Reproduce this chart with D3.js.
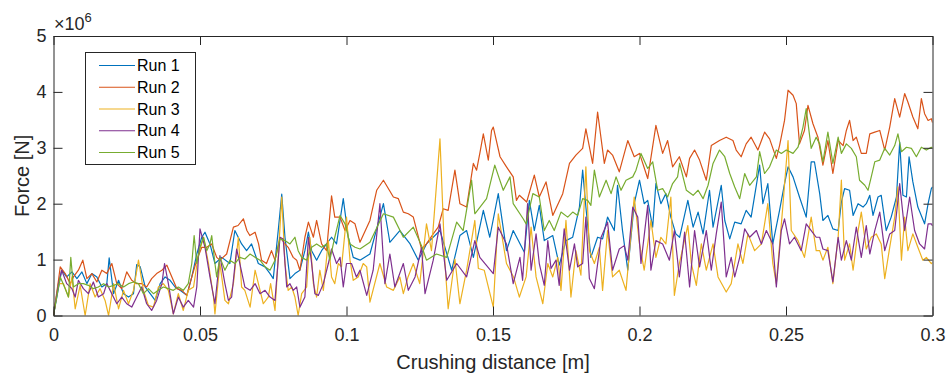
<!DOCTYPE html>
<html>
<head>
<meta charset="utf-8">
<script src="https://cdn.jsdelivr.net/npm/d3@7"></script>
<style>
  body { margin: 0; background: #fff; }
  svg { display: block; font-family: "Liberation Sans", Arial, Helvetica, sans-serif; }
  .axis path, .axis line { stroke: #262626; }
  .axis text { fill: #262626; font-size: 18px; }
  .label { fill: #262626; font-size: 20px; }
</style>
</head>
<body>
<svg id="chart"></svg>
<script>
// crushing distance [m] vs force, force stored in units of 1e6 N
const run1 = [[0,0],[0.0028,0.81],[0.0045,0.69],[0.0063,0.78],[0.008,0.66],[0.0097,0.78],[0.0114,0.57],[0.0131,0.75],[0.0148,0.69],[0.0165,0.51],[0.0182,0.57],[0.019,1.03],[0.0205,0.39],[0.0222,0.63],[0.0239,0.39],[0.0256,0.33],[0.0273,0.39],[0.0284,0.91],[0.0296,0.87],[0.0313,0.51],[0.033,0.39],[0.0347,0.27],[0.0364,0.57],[0.0381,0.69],[0.0398,0.63],[0.0415,0.51],[0.0432,0.45],[0.0455,0.36],[0.0472,0.69],[0.0489,1.1],[0.0506,1.4],[0.0517,1.49],[0.0534,1.28],[0.0551,0.93],[0.0574,1.04],[0.0602,0.93],[0.0619,1.52],[0.0642,1.28],[0.0659,1.16],[0.0676,1.28],[0.0699,0.93],[0.0722,0.87],[0.0739,0.75],[0.075,0.66],[0.0767,1.52],[0.0779,2.17],[0.079,1.4],[0.0807,0.66],[0.0824,0.75],[0.0841,0.81],[0.0858,1.16],[0.087,1.49],[0.0881,1.16],[0.0898,0.99],[0.0915,1.16],[0.0932,1.28],[0.0949,1.4],[0.0966,1.28],[0.0989,2.09],[0.1006,1.4],[0.1023,1.04],[0.1046,0.99],[0.108,1.1],[0.1126,2.0],[0.1148,1.31],[0.1182,1.52],[0.1217,1.28],[0.1245,0.99],[0.1273,1.28],[0.1319,1.52],[0.1359,0.81],[0.1387,1.43],[0.141,1.52],[0.1433,1.04],[0.1467,1.88],[0.1489,1.4],[0.1518,2.18],[0.1546,1.16],[0.1569,1.52],[0.1607,1.13],[0.1624,2.06],[0.1641,1.52],[0.1658,1.97],[0.1675,1.34],[0.1704,1.43],[0.1726,0.9],[0.1749,1.34],[0.1772,1.4],[0.1795,1.94],[0.1806,2.6],[0.1817,1.94],[0.1834,1.04],[0.1857,1.4],[0.1874,1.37],[0.1891,1.76],[0.1914,1.52],[0.1925,2.33],[0.1942,1.52],[0.196,0.81],[0.1982,2.0],[0.2,2.42],[0.2016,2.0],[0.2028,2.06],[0.2045,1.58],[0.2056,2.36],[0.2073,2.0],[0.209,2.18],[0.2107,1.76],[0.2124,1.46],[0.2137,1.4],[0.2165,2.06],[0.2183,1.58],[0.22,1.85],[0.2217,1.46],[0.2239,2.24],[0.2251,1.58],[0.2279,2.33],[0.2291,1.7],[0.2308,1.37],[0.2325,1.67],[0.2347,1.64],[0.2364,1.88],[0.2381,1.76],[0.241,2.69],[0.2421,2.0],[0.2438,2.36],[0.2455,1.28],[0.2478,1.88],[0.2495,2.36],[0.2507,2.66],[0.2524,2.48],[0.2546,2.12],[0.2569,1.76],[0.2586,2.75],[0.2597,2.75],[0.2615,2.18],[0.2626,1.7],[0.2643,1.79],[0.266,1.55],[0.2678,1.52],[0.2689,2.03],[0.27,2.27],[0.2717,2.24],[0.2729,1.79],[0.2746,2.0],[0.2763,1.94],[0.2774,2.0],[0.2786,2.15],[0.2797,1.79],[0.2814,2.12],[0.2825,2.15],[0.2842,1.52],[0.2859,1.76],[0.2877,2.12],[0.2888,3.1],[0.2899,2.15],[0.2911,2.12],[0.292,2.84],[0.2933,2.39],[0.295,1.94],[0.2973,1.64],[0.2985,2.0],[0.2996,2.27],[0.3,2.3]];

const run2 = [[0,0],[0.0017,0.63],[0.0023,0.87],[0.004,0.75],[0.0057,0.57],[0.0068,0.69],[0.0085,0.81],[0.01,0.99],[0.0114,0.66],[0.0131,0.75],[0.0148,0.6],[0.0165,0.81],[0.0182,0.75],[0.0199,0.93],[0.0216,0.57],[0.0233,0.48],[0.025,0.78],[0.0267,0.63],[0.0284,0.57],[0.0301,0.57],[0.0318,0.51],[0.0335,0.66],[0.0352,0.75],[0.037,0.81],[0.0387,0.9],[0.0404,0.69],[0.0421,0.48],[0.0438,0.45],[0.0455,0.36],[0.0472,0.69],[0.0489,0.99],[0.0506,1.22],[0.0523,1.22],[0.054,1.28],[0.0557,1.04],[0.0568,0.99],[0.0591,1.1],[0.0614,1.58],[0.063,1.61],[0.0648,1.73],[0.066,1.52],[0.067,1.43],[0.0688,1.49],[0.07,1.28],[0.071,0.99],[0.0727,0.93],[0.0744,1.16],[0.0756,0.99],[0.0773,1.4],[0.079,1.28],[0.0801,1.22],[0.0818,1.04],[0.083,0.99],[0.0841,0.81],[0.0858,1.4],[0.087,1.67],[0.0887,1.4],[0.0898,1.7],[0.0915,1.28],[0.0932,1.16],[0.0949,2.14],[0.096,1.76],[0.0978,1.76],[0.0995,1.52],[0.1012,1.7],[0.1029,1.64],[0.1046,1.31],[0.108,1.7],[0.1103,2.24],[0.1126,2.42],[0.116,2.12],[0.1177,2.09],[0.1194,1.85],[0.1211,1.82],[0.1228,1.76],[0.1256,1.19],[0.1273,1.28],[0.1296,1.46],[0.1313,1.58],[0.133,1.91],[0.1347,1.88],[0.137,2.6],[0.1387,2.0],[0.141,1.94],[0.1433,2.72],[0.1444,2.6],[0.1455,2.9],[0.1467,3.25],[0.1484,2.78],[0.1495,3.31],[0.1501,3.37],[0.1524,2.84],[0.1546,2.66],[0.1569,2.48],[0.158,2.06],[0.159,2.15],[0.1615,2.03],[0.1641,2.51],[0.1658,2.12],[0.1681,2.39],[0.1704,1.79],[0.1738,2.18],[0.1761,2.72],[0.1783,2.87],[0.1806,2.99],[0.1817,3.34],[0.184,2.72],[0.1857,3.64],[0.188,2.72],[0.1891,2.96],[0.1908,2.87],[0.1931,2.57],[0.196,3.13],[0.1982,2.84],[0.2,2.9],[0.2028,2.45],[0.2056,3.4],[0.2079,2.9],[0.2096,3.13],[0.2113,2.66],[0.2136,2.84],[0.216,2.48],[0.2171,2.81],[0.2188,2.96],[0.2205,2.78],[0.2228,2.42],[0.2245,3.04],[0.2273,3.13],[0.2296,3.19],[0.2319,3.13],[0.233,2.96],[0.2347,2.84],[0.2364,3.07],[0.2381,3.19],[0.2404,2.96],[0.2427,3.28],[0.2444,3.16],[0.2467,2.81],[0.2478,3.04],[0.2495,3.49],[0.2507,4.03],[0.2524,3.94],[0.2535,3.79],[0.2546,3.07],[0.2563,3.31],[0.2575,3.76],[0.2592,3.43],[0.2609,3.19],[0.2626,2.69],[0.2643,3.13],[0.266,2.54],[0.2678,3.13],[0.2695,3.04],[0.2706,3.31],[0.2717,3.49],[0.2729,3.13],[0.274,3.19],[0.2757,2.9],[0.2774,2.9],[0.2786,3.25],[0.2803,3.28],[0.282,3.31],[0.2837,2.96],[0.2854,3.37],[0.2871,3.88],[0.2888,3.55],[0.2905,3.97],[0.2916,3.82],[0.2933,3.55],[0.295,3.34],[0.2962,3.88],[0.2973,3.61],[0.2985,3.49],[0.2996,3.52],[0.3,3.45]];

const run3 = [[0,0],[0.0017,0.57],[0.0034,0.57],[0.0051,0.33],[0.0063,0.69],[0.0074,0.12],[0.0091,0.54],[0.0108,0],[0.0125,0.57],[0.0142,0.33],[0.0159,0.48],[0.0176,0.27],[0.0188,0],[0.0205,0.57],[0.0222,0.12],[0.0239,0.45],[0.0256,0.21],[0.0273,0.45],[0.029,0.99],[0.0307,0.45],[0.0324,0.18],[0.0341,0.15],[0.0358,0.51],[0.0375,0.57],[0.0392,0.45],[0.0409,0.03],[0.0426,0.39],[0.0443,0.09],[0.046,0.45],[0.0478,0.51],[0.0495,1.1],[0.0512,1.4],[0.0529,0.93],[0.0546,0.33],[0.0551,0.03],[0.0568,0.93],[0.0585,0.27],[0.0597,0.21],[0.0614,0.57],[0.0631,1.4],[0.0642,0.51],[0.0653,0.45],[0.0671,0.15],[0.0688,0.81],[0.0705,0.45],[0.0716,0.21],[0.0733,0.33],[0.0741,0.57],[0.0756,0.09],[0.0767,1.04],[0.0779,2.12],[0.079,0.93],[0.0801,0.45],[0.0813,0.51],[0.0824,0.33],[0.0835,0],[0.0847,0.39],[0.0864,0.51],[0.0875,1.4],[0.0887,0.57],[0.0898,0.33],[0.0909,0.81],[0.0921,0.45],[0.0938,1.34],[0.0949,0.69],[0.096,0.57],[0.0972,0.93],[0.0983,0.87],[0.1,1.76],[0.1012,0.99],[0.1023,0.63],[0.104,0.69],[0.1057,0.93],[0.1069,0.87],[0.108,0.24],[0.1114,0.93],[0.1137,0.51],[0.116,0.45],[0.1182,0.69],[0.1194,0.39],[0.121,0.69],[0.1228,0.93],[0.125,0.57],[0.1273,1.64],[0.129,1.16],[0.1319,3.16],[0.1336,0.93],[0.1347,0.12],[0.137,1.01],[0.1387,0.21],[0.141,0.81],[0.1438,1.7],[0.145,0.84],[0.147,0.81],[0.1501,0.15],[0.1518,1.82],[0.1546,0.93],[0.157,0.69],[0.159,0.33],[0.1613,0.69],[0.163,1.58],[0.1647,0.69],[0.167,0.21],[0.1687,0.93],[0.1704,0.69],[0.1721,1.04],[0.1732,0.45],[0.1749,1.7],[0.1766,0.33],[0.1783,1.16],[0.18,0.72],[0.1817,2.66],[0.1829,1.16],[0.1846,0.93],[0.1863,1.22],[0.1874,0.45],[0.1891,1.52],[0.1908,0.69],[0.1931,0.81],[0.1954,0.45],[0.1982,2.12],[0.2,1.28],[0.2016,0.81],[0.2039,1.7],[0.2056,1.04],[0.2073,1.4],[0.209,1.28],[0.2107,2.12],[0.2119,0.36],[0.2136,0.93],[0.2165,1.61],[0.2177,0.93],[0.2194,0.54],[0.2211,1.28],[0.2228,0.81],[0.2251,1.28],[0.2268,0.69],[0.2296,0.42],[0.2313,0.57],[0.2336,1.28],[0.2353,0.93],[0.237,1.46],[0.2393,1.16],[0.2416,1.28],[0.2438,2.0],[0.2455,0.93],[0.2467,0.57],[0.2489,1.94],[0.2507,3.13],[0.2518,1.52],[0.2541,1.34],[0.2563,1.04],[0.2586,1.76],[0.2603,1.16],[0.2615,1.16],[0.2626,0.99],[0.2643,1.22],[0.266,0.57],[0.2678,1.4],[0.2689,2.42],[0.27,0.99],[0.2717,1.28],[0.2729,0.81],[0.2746,1.52],[0.2757,1.85],[0.2774,1.19],[0.2791,1.4],[0.2808,1.46],[0.2825,1.28],[0.2837,0.66],[0.2854,1.22],[0.2871,1.76],[0.2882,2.3],[0.2894,0.99],[0.2905,1.76],[0.2916,1.16],[0.2933,1.46],[0.295,1.22],[0.2967,0.99],[0.2979,1.04],[0.2996,0.93],[0.3,0.95]];

const run4 = [[0,0],[0.0017,0.57],[0.0028,0.81],[0.0045,0.57],[0.0063,0.48],[0.0074,0.33],[0.0085,0.63],[0.0102,0.48],[0.0119,0.39],[0.0136,0.6],[0.0153,0.33],[0.0171,0.39],[0.0182,0.57],[0.0199,0.39],[0.0216,0.21],[0.0233,0.33],[0.025,0.21],[0.0267,0.15],[0.0284,0.33],[0.0301,0.51],[0.0318,0.21],[0.0335,0.09],[0.0352,0.27],[0.037,0.57],[0.0379,0.93],[0.0392,0.57],[0.0409,0.03],[0.0426,0.33],[0.0443,0.15],[0.046,0.27],[0.0478,0.15],[0.0489,0.51],[0.05,1.55],[0.0517,1.22],[0.0534,0.69],[0.0551,0.21],[0.0568,1.07],[0.0585,0.57],[0.0597,0.27],[0.0608,0.33],[0.0625,1.19],[0.0636,0.93],[0.0653,0.51],[0.0671,0.45],[0.0688,0.57],[0.0705,0.39],[0.0722,0.45],[0.0739,0.33],[0.0756,0.27],[0.0773,1.4],[0.0784,1.37],[0.0796,0.51],[0.0807,0.57],[0.0818,0.45],[0.083,0.51],[0.0841,0.15],[0.0858,0.33],[0.087,1.4],[0.0881,0.93],[0.0892,0.39],[0.0904,0.36],[0.0921,0.57],[0.0938,0.93],[0.0949,1.19],[0.0966,0.93],[0.0978,1.04],[0.0989,0.51],[0.1,0.93],[0.1017,0.93],[0.1034,0.69],[0.1046,0.81],[0.1069,0.36],[0.1091,0.81],[0.1114,2.0],[0.1131,0.57],[0.1148,1.1],[0.1165,0.51],[0.1194,0.93],[0.1211,0.45],[0.1234,0.69],[0.1256,1.22],[0.1268,0.39],[0.1296,0.99],[0.1319,1.64],[0.1342,0.63],[0.1376,0.93],[0.141,0.69],[0.1438,1.34],[0.1455,1.04],[0.1501,0.75],[0.1518,1.58],[0.1546,1.28],[0.1569,0.57],[0.1592,1.04],[0.1601,0.63],[0.1618,2.0],[0.163,0.81],[0.1647,1.46],[0.1658,0.93],[0.1675,0.54],[0.1687,1.34],[0.1698,0.84],[0.1715,0.99],[0.1726,0.54],[0.1743,1.55],[0.1761,0.81],[0.1778,1.28],[0.1789,0.87],[0.1806,0.93],[0.1817,1.76],[0.1829,0.66],[0.1846,0.48],[0.1869,1.4],[0.1891,1.67],[0.1908,0.81],[0.1931,1.19],[0.1948,1.25],[0.196,0.99],[0.1977,1.94],[0.1994,1.76],[0.2005,0.93],[0.2028,1.97],[0.2039,0.81],[0.2056,1.34],[0.2079,1.28],[0.2102,0.99],[0.2119,1.52],[0.2136,0.69],[0.2154,1.49],[0.2171,0.51],[0.2188,1.52],[0.2205,0.87],[0.2228,1.52],[0.2245,0.81],[0.2262,1.46],[0.2279,2.03],[0.2296,0.69],[0.2313,1.04],[0.2325,0.69],[0.2342,1.04],[0.2359,1.55],[0.2376,1.4],[0.2399,1.52],[0.2416,1.28],[0.2433,1.52],[0.2455,1.28],[0.2467,0.51],[0.2484,1.52],[0.2495,1.73],[0.2512,1.28],[0.2529,1.4],[0.2552,1.16],[0.2569,1.64],[0.2586,1.52],[0.2603,1.4],[0.2615,1.4],[0.2626,1.19],[0.2643,1.16],[0.266,0.6],[0.2678,1.4],[0.2689,0.99],[0.2706,1.34],[0.2723,0.99],[0.274,1.58],[0.2757,1.04],[0.2774,1.61],[0.2786,1.1],[0.2803,1.52],[0.282,1.85],[0.2837,1.16],[0.2854,1.46],[0.2871,1.52],[0.2888,2.36],[0.2905,1.52],[0.2922,2.12],[0.2939,1.52],[0.2956,1.28],[0.2973,1.19],[0.2985,1.64],[0.2996,1.64],[0.3,1.6]];

const run5 = [[0,0],[0.0023,0.69],[0.004,0.48],[0.0051,0.33],[0.0059,1.04],[0.0068,0.51],[0.0085,0.57],[0.0102,0.57],[0.0119,0.54],[0.0136,0.48],[0.0153,0.51],[0.0171,0.57],[0.0188,0.51],[0.0205,0.54],[0.0222,0.57],[0.0239,0.51],[0.0256,0.57],[0.0273,0.6],[0.029,0.57],[0.0307,0.39],[0.0324,0.48],[0.0341,0.39],[0.0358,0.45],[0.0375,0.51],[0.0392,0.48],[0.0409,0.45],[0.0426,0.51],[0.0443,0.45],[0.046,0.57],[0.0472,0.93],[0.048,1.43],[0.0489,0.93],[0.05,1.22],[0.0512,1.4],[0.0523,1.16],[0.0534,1.28],[0.054,1.43],[0.0551,0.93],[0.0557,0.69],[0.0568,1.04],[0.0585,0.81],[0.0602,0.99],[0.0619,0.93],[0.0636,1.04],[0.0653,1.01],[0.0671,1.1],[0.0688,1.04],[0.0705,0.99],[0.0722,0.87],[0.0739,0.81],[0.0756,0.99],[0.0773,1.37],[0.079,1.34],[0.0807,1.28],[0.0824,1.4],[0.0835,1.16],[0.0847,1.04],[0.0864,0.99],[0.0881,1.22],[0.0898,1.28],[0.0915,1.22],[0.0932,1.28],[0.0943,0.99],[0.096,1.4],[0.0978,1.79],[0.0995,1.64],[0.1012,1.28],[0.1029,1.22],[0.1046,1.19],[0.108,1.31],[0.1126,1.82],[0.116,1.76],[0.1194,1.4],[0.1228,1.58],[0.1256,1.25],[0.1273,0.99],[0.1307,1.1],[0.1342,1.04],[0.1376,1.67],[0.1398,1.52],[0.1427,2.42],[0.1438,1.82],[0.1478,2.09],[0.1506,2.69],[0.1535,2.24],[0.1558,2.48],[0.1569,2.0],[0.1603,1.73],[0.1613,1.64],[0.1636,2.18],[0.1658,2.12],[0.1675,1.52],[0.1692,1.7],[0.1709,1.52],[0.1732,1.85],[0.1755,1.76],[0.1772,1.85],[0.1789,1.79],[0.1806,2.09],[0.1823,2.06],[0.1834,1.97],[0.1846,2.6],[0.1863,2.12],[0.1886,2.42],[0.1903,2.18],[0.192,2.48],[0.1937,2.24],[0.1954,2.42],[0.1977,2.48],[0.1988,2.6],[0.2005,2.9],[0.2028,2.63],[0.2045,2.75],[0.2062,2.24],[0.2079,2.27],[0.2096,2.12],[0.2113,2.36],[0.213,2.48],[0.2137,2.72],[0.216,2.24],[0.2183,2.15],[0.22,2.24],[0.2217,2.09],[0.2234,2.33],[0.2251,2.72],[0.2273,2.96],[0.2291,2.84],[0.2308,2.54],[0.2325,2.3],[0.2342,2.09],[0.2359,2.54],[0.2376,2.33],[0.2399,2.48],[0.241,2.93],[0.2427,2.54],[0.2444,2.66],[0.2467,2.96],[0.2484,2.9],[0.2501,2.96],[0.2524,2.9],[0.2541,3.01],[0.2558,3.37],[0.2569,3.7],[0.2586,2.99],[0.2603,3.19],[0.2615,3.07],[0.2626,2.75],[0.2643,3.28],[0.266,2.72],[0.2678,3.19],[0.2689,2.9],[0.2706,3.07],[0.2723,2.99],[0.274,2.84],[0.2751,2.42],[0.2769,2.33],[0.278,2.24],[0.2791,2.48],[0.2803,2.75],[0.282,2.78],[0.2837,2.99],[0.2854,2.87],[0.2871,3.04],[0.2882,3.25],[0.2894,2.93],[0.2911,3.01],[0.2928,2.99],[0.2945,2.84],[0.2962,3.01],[0.2979,2.96],[0.2996,3.01],[0.3,3.0]];

const runNames = ['Run 1', 'Run 2', 'Run 3', 'Run 4', 'Run 5'];
const runColors = ['#0072BD', '#D95319', '#EDB120', '#7E2F8E', '#77AC30'];
const xTicks = [0, 0.05, 0.1, 0.15, 0.2, 0.25, 0.3];
const xTickLabels = ['0', '0.05', '0.1', '0.15', '0.2', '0.25', '0.3'];
const yTicks = [0, 1e6, 2e6, 3e6, 4e6, 5e6];
const yTickLabels = ['0', '1', '2', '3', '4', '5'];

const runs = [run1, run2, run3, run4, run5];

const width = 948;
const height = 379;
const plotBox = { left: 53.5, right: 932.5, top: 36, bottom: 315.5 };
const tickLen = 9;

const svg = d3.select('#chart')
              .attr('width', width)
              .attr('height', height);

const x = d3.scaleLinear()
            .domain([0, 0.3])
            .range([plotBox.left, plotBox.right]);

const y = d3.scaleLinear()
            .domain([0, 5e6])
            .range([plotBox.bottom, plotBox.top]);

// clip the lines to the axes box
svg.append('clipPath')
   .attr('id', 'clip')
   .append('rect')
   .attr('x', plotBox.left)
   .attr('y', plotBox.top)
   .attr('width', plotBox.right - plotBox.left)
   .attr('height', plotBox.bottom - plotBox.top);

const line = d3.line()
               .x(d => x(d[0]))
               .y(d => y(d[1] * 1e6));

svg.append('g')
   .attr('clip-path', 'url(#clip)')
   .selectAll('path')
   .data(runs)
   .enter()
   .append('path')
   .attr('d', line)
   .attr('fill', 'none')
   .attr('stroke', (d, i) => runColors[i])
   .attr('stroke-width', 1.2)
   .attr('stroke-linejoin', 'round');

// axes, matlab style: ticks inside on all four sides
const xAxis = d3.axisBottom(x)
                .tickValues(xTicks)
                .tickFormat((d, i) => xTickLabels[i])
                .tickSizeInner(-tickLen)
                .tickSizeOuter(0)
                .tickPadding(12.5);

const yAxis = d3.axisLeft(y)
                .tickValues(yTicks)
                .tickFormat((d, i) => yTickLabels[i])
                .tickSizeInner(-tickLen)
                .tickSizeOuter(0)
                .tickPadding(7);

svg.append('g')
   .attr('class', 'axis')
   .attr('transform', 'translate(0,' + plotBox.bottom + ')')
   .call(xAxis);

svg.append('g')
   .attr('class', 'axis')
   .attr('transform', 'translate(' + plotBox.left + ',0)')
   .call(yAxis);

svg.append('g')
   .attr('class', 'axis')
   .attr('transform', 'translate(0,' + plotBox.top + ')')
   .call(d3.axisTop(x).tickValues(xTicks).tickFormat('').tickSizeInner(-tickLen).tickSizeOuter(0));

svg.append('g')
   .attr('class', 'axis')
   .attr('transform', 'translate(' + plotBox.right + ',0)')
   .call(d3.axisRight(y).tickValues(yTicks).tickFormat('').tickSizeInner(-tickLen).tickSizeOuter(0));

svg.selectAll('.axis text').attr('font-family', null);

// exponent note
const expo = svg.append('text')
                .attr('class', 'label')
                .attr('x', 54)
                .attr('y', 30)
                .style('font-size', '18px');
expo.append('tspan').text('\u00d710');
expo.append('tspan')
    .attr('dy', -8)
    .style('font-size', '13px')
    .text('6');

// axis titles
svg.append('text')
   .attr('class', 'label')
   .attr('x', (plotBox.left + plotBox.right) / 2)
   .attr('y', 369)
   .attr('text-anchor', 'middle')
   .text('Crushing distance [m]');

svg.append('text')
   .attr('class', 'label')
   .attr('transform', 'translate(29,' + (plotBox.top + plotBox.bottom) / 2 + ') rotate(-90)')
   .attr('text-anchor', 'middle')
   .text('Force [N]');

// legend
const legend = svg.append('g')
                  .attr('id', 'legend');

legend.append('rect')
      .attr('x', 85.5)
      .attr('y', 52.5)
      .attr('width', 110)
      .attr('height', 112)
      .attr('fill', '#fff')
      .attr('stroke', '#262626')
      .attr('stroke-width', 1);

const entry = legend.selectAll('.entry')
                    .data(runNames)
                    .enter()
                    .append('g')
                    .attr('class', 'entry')
                    .attr('transform', (d, i) => 'translate(0,' + (65.5 + i * 21.75) + ')');

entry.append('line')
     .attr('x1', 99)
     .attr('x2', 135)
     .attr('stroke', (d, i) => runColors[i])
     .attr('stroke-width', 1.2);

entry.append('text')
     .attr('x', 137)
     .attr('dy', '0.35em')
     .attr('fill', '#000')
     .style('font-size', '16px')
     .text(d => d);
</script>
</body>
</html>
